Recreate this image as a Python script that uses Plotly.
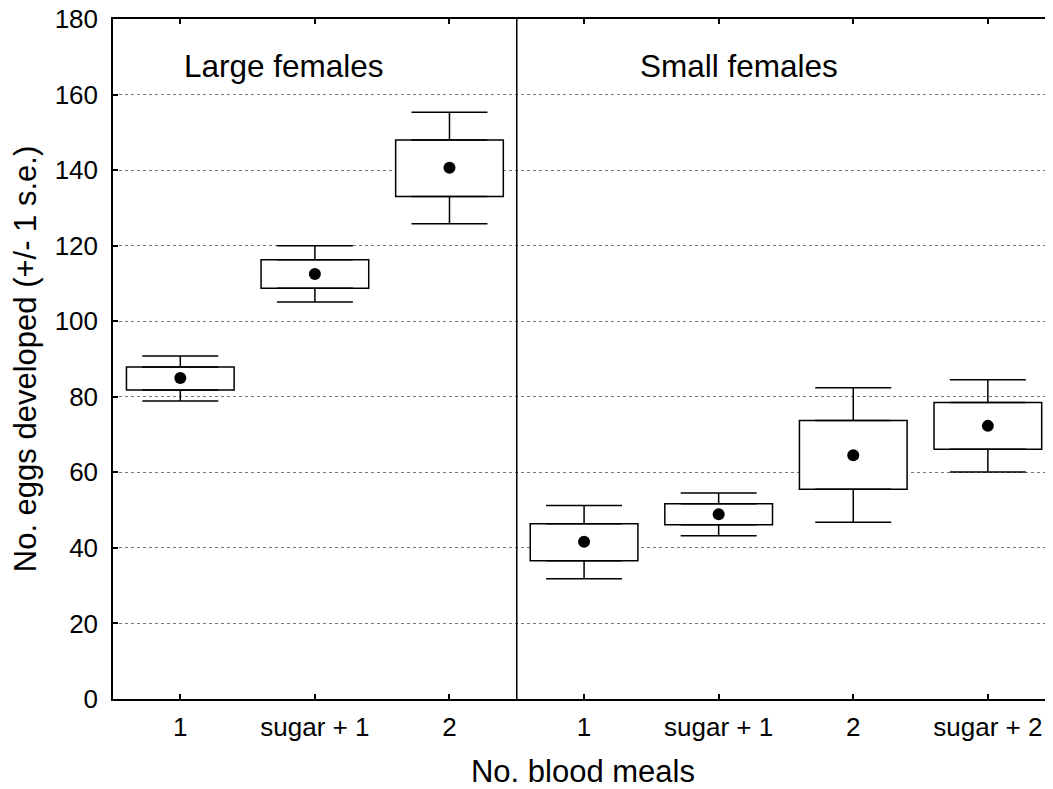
import plotly.graph_objects as go

# data (means, +/- 1 s.e. box, whiskers)
groups = ["Large females", "Small females"]
large_meals = ["1", "sugar + 1", "2"]
small_meals = ["1", "sugar + 1", "2", "sugar + 2"]

large_mean = [85.0, 112.5, 140.6]
large_box_lo = [81.8, 108.7, 133.0]
large_box_hi = [87.9, 116.3, 148.0]
large_whisk_lo = [78.9, 105.1, 125.8]
large_whisk_hi = [90.8, 120.0, 155.3]

small_mean = [41.6, 48.9, 64.5, 72.3]
small_box_lo = [36.6, 46.1, 55.5, 66.1]
small_box_hi = [46.4, 51.7, 73.7, 78.5]
small_whisk_lo = [31.8, 43.2, 46.8, 60.1]
small_whisk_hi = [51.2, 54.5, 82.4, 84.5]

y_ticks = [0, 20, 40, 60, 80, 100, 120, 140, 160, 180]


# combine both groups on one axis
labels = large_meals + small_meals
xpos = list(range(len(labels)))
mean = large_mean + small_mean
box_lo = large_box_lo + small_box_lo
box_hi = large_box_hi + small_box_hi
whisk_lo = large_whisk_lo + small_whisk_lo
whisk_hi = large_whisk_hi + small_whisk_hi

font = "Liberation Sans, Arial, sans-serif"
fig = go.Figure()

# boxes
fig.add_trace(go.Bar(
    x=xpos, y=[h - l for h, l in zip(box_hi, box_lo)], base=box_lo,
    width=0.8, marker=dict(color="white", line=dict(color="black", width=1.5)),
    hoverinfo="skip"))

# upper whiskers
fig.add_trace(go.Scatter(
    x=xpos, y=box_hi, mode="markers", marker=dict(opacity=0),
    error_y=dict(type="data", symmetric=False,
                 array=[w - b for w, b in zip(whisk_hi, box_hi)],
                 arrayminus=[0] * len(xpos),
                 color="black", thickness=1.5, width=38),
    hoverinfo="skip"))

# lower whiskers
fig.add_trace(go.Scatter(
    x=xpos, y=box_lo, mode="markers", marker=dict(opacity=0),
    error_y=dict(type="data", symmetric=False,
                 array=[0] * len(xpos),
                 arrayminus=[b - w for b, w in zip(box_lo, whisk_lo)],
                 color="black", thickness=1.5, width=38),
    hoverinfo="skip"))

# means
fig.add_trace(go.Scatter(
    x=xpos, y=mean, mode="markers",
    marker=dict(color="black", size=12, symbol="circle")))

# divider between the two groups
fig.add_shape(type="line", xref="x", yref="y domain",
              x0=len(large_meals) - 0.5, x1=len(large_meals) - 0.5, y0=0, y1=1,
              line=dict(color="black", width=1.5))

# group labels
fig.add_annotation(x=0.77, y=167.5, text=groups[0], showarrow=False,
                   font=dict(size=31.5, color="black", family=font))
fig.add_annotation(x=4.15, y=167.5, text=groups[1], showarrow=False,
                   font=dict(size=31.5, color="black", family=font))

# page body has an 8px margin, so the figure is drawn 8px smaller/offset
fig.update_layout(
    width=1045, height=781,
    margin=dict(l=105, r=0, t=11, b=90),
    plot_bgcolor="white", paper_bgcolor="white",
    showlegend=False,
    font=dict(family=font, color="black", size=26),
    xaxis=dict(
        range=[-0.5, 6.484], tickvals=xpos, ticktext=labels,
        showgrid=False, zeroline=False,
        showline=True, linecolor="black", linewidth=1.5, mirror="ticks",
        ticks="inside", ticklen=5, tickwidth=1.5, tickcolor="black",
        tickfont=dict(size=26), ticklabelstandoff=4,
        title=dict(text="No. blood meals", font=dict(size=31), standoff=22),
        automargin=False),
    yaxis=dict(
        range=[0, 180], tickvals=y_ticks,
        showgrid=True, gridcolor="#777777", gridwidth=1, griddash="dot",
        zeroline=False,
        showline=True, linecolor="black", linewidth=1.5, mirror="ticks",
        ticks="inside", ticklen=5, tickwidth=1.5, tickcolor="black",
        tickfont=dict(size=26), ticklabelstandoff=8, ticklabeloverflow="allow",
        title=dict(text="No. eggs developed (+/- 1 s.e.)", font=dict(size=31), standoff=11),
        automargin=False),
)

fig.write_html("out.html")
